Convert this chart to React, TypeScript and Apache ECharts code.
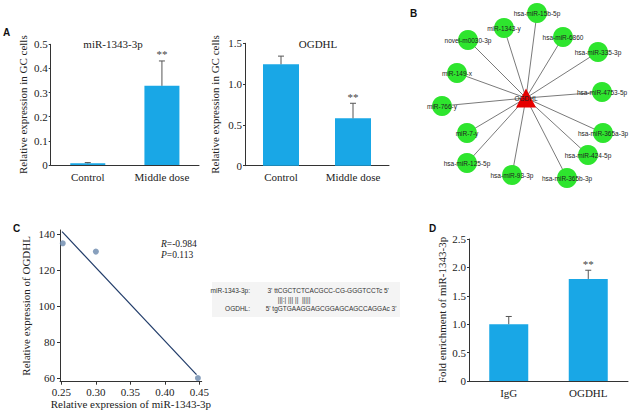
import React, { useEffect, useRef } from "react";
import * as echarts from "echarts";

// ---------- data ----------
const groupsA = ["Control", "Middle dose"];
const mirMeans = [0.007, 0.328];
const mirErrs = [0.003, 0.103];
const mirSig = ["", "**"];

const ogdhlMeans = [1.243, 0.58];
const ogdhlErrs = [0.1, 0.185];
const ogdhlSig = ["", "**"];

const ripGroups = ["IgG", "OGDHL"];
const ripMeans = [1.0, 1.797];
const ripErrs = [0.136, 0.153];
const ripSig = ["", "**"];

const corrX = [0.252, 0.3, 0.448];
const corrY = [134.8, 130.2, 60.0];
const fitX = [0.251, 0.446];
const fitY = [141.3, 61.9];
const corrTicksX = [0.25, 0.3, 0.35, 0.4, 0.45];
const corrTicksY = [60, 80, 100, 120, 140];

const hubName = "OGDHL";
const hubPos = [526, 98];
const mirNames = [
  "hsa-miR-15b-5p",
  "miR-1343-y",
  "novel-m0030-3p",
  "hsa-miR-6860",
  "hsa-miR-335-3p",
  "miR-149-x",
  "hsa-miR-4753-5p",
  "miR-766-y",
  "miR-7-y",
  "hsa-miR-365a-3p",
  "hsa-miR-125-5p",
  "hsa-miR-424-5p",
  "hsa-miR-93-3p",
  "hsa-miR-365b-3p",
];
const mirX = [537, 504, 468, 563, 598, 457, 602, 442, 467, 603, 467, 588, 512, 567];
const mirY = [13, 28, 40, 37, 52, 73, 92, 106, 133, 133, 163, 155, 175, 178];

const corrStats = ["{i|R}=-0.984", "{i|P}=0.113"];

const seqMirLabel = "miR-1343-3p:";
const seqMir = "3' ttCGCTCTCACGCC-CG-GGGTCCTc 5'";
const seqBonds = "|||:| ||| ||  |||||";
const seqGeneLabel = "OGDHL:";
const seqGene = "5' tgGTGAAGGAGCGGAGCAGCCAGGAc 3'";

const SERIF = "'Liberation Serif', 'DejaVu Serif', serif";
const SANS = "'Liberation Sans', Arial, sans-serif";
const BAR = "#19a7e6";
const AXIS = "#333";

function errRender(sig: string[]) {
  return (params: any, api: any) => {
    const i = api.value(0);
    const m = api.value(1);
    const e = api.value(2);
    const base = api.coord([i, m]);
    const top = api.coord([i, m + e]);
    const cap = 3;
    const st = { stroke: "#555", lineWidth: 1 };
    const children: any[] = [
      { type: "line", shape: { x1: base[0], y1: base[1], x2: top[0], y2: top[1] }, style: st },
      { type: "line", shape: { x1: top[0] - cap, y1: top[1], x2: top[0] + cap, y2: top[1] }, style: st },
    ];
    const s = sig[params.dataIndex];
    if (s) {
      children.push({
        type: "text",
        x: top[0],
        y: top[1] - 1,
        style: { text: s, textAlign: "center", textVerticalAlign: "bottom", fontSize: 11, fontFamily: SERIF, fill: "#444" },
      });
    }
    return { type: "group", children };
  };
}

function catAxis(grid: number, data: string[]) {
  return {
    type: "category",
    gridIndex: grid,
    data,
    axisLine: { lineStyle: { color: AXIS, width: 1 } },
    axisTick: { show: false },
    axisLabel: { fontSize: 11, fontFamily: SERIF, color: "#222", margin: 6 },
  };
}

function valAxis(grid: number, max: number, interval: number, name: string, gap: number, dec: number) {
  return {
    type: "value",
    gridIndex: grid,
    min: 0,
    max,
    interval,
    name,
    nameLocation: "middle",
    nameGap: gap,
    nameTextStyle: { fontSize: 11, fontFamily: SERIF, color: "#222" },
    axisLine: { show: true, lineStyle: { color: AXIS, width: 1 } },
    axisTick: { show: true, length: 2, lineStyle: { color: AXIS } },
    splitLine: { show: false },
    axisLabel: {
      fontSize: 11,
      fontFamily: SERIF,
      color: "#222",
      margin: 3,
      formatter: (v: number) => (v === 0 ? "0" : v.toFixed(dec)),
    },
  };
}

function bars(xi: number, means: number[], width: number) {
  return {
    type: "bar",
    xAxisIndex: xi,
    yAxisIndex: xi,
    data: means,
    barWidth: width,
    itemStyle: { color: BAR },
    silent: true,
  };
}

function errs(xi: number, means: number[], e: number[], sig: string[]) {
  return {
    type: "custom",
    xAxisIndex: xi,
    yAxisIndex: xi,
    z: 3,
    silent: true,
    renderItem: errRender(sig),
    data: means.map((m, i) => [i, m, e[i]]),
  };
}

function seqText(x: number, y: number, text: string, align: string) {
  return {
    type: "text",
    x,
    y,
    style: { text, textAlign: align, textVerticalAlign: "middle", fontSize: 6.5, fontFamily: SANS, fill: "#333" },
  };
}

export default function App() {
  const ref = useRef<HTMLDivElement>(null);
  useEffect(() => {
    if (!ref.current) return;
    const chart = echarts.init(ref.current, undefined, { renderer: "svg" });

    const nodes: any[] = [
      {
        name: hubName,
        x: hubPos[0],
        y: hubPos[1],
        symbol: "triangle",
        symbolSize: [20, 19],
        itemStyle: { color: "#e60000" },
        z: 3,
      },
      ...mirNames.map((n, i) => ({
        name: n,
        x: mirX[i],
        y: mirY[i],
        symbol: "circle",
        symbolSize: 20,
        itemStyle: { color: "#2ee52e" },
      })),
    ];
    const links = mirNames.map((n) => ({ source: n, target: hubName }));
    const xs = [hubPos[0], ...mirX];
    const ys = [hubPos[1], ...mirY];
    const gx0 = Math.min(...xs);
    const gx1 = Math.max(...xs);
    const gy0 = Math.min(...ys);
    const gy1 = Math.max(...ys);

    const statTexts = corrStats.map((t, i) => ({
      type: "text",
      x: 161,
      y: 244 + i * 10.5,
      style: {
        text: t,
        textVerticalAlign: "middle",
        fontSize: 9.5,
        fontFamily: SERIF,
        fill: "#222",
        rich: { i: { fontStyle: "italic", fontSize: 9.5, fontFamily: SERIF, fill: "#222" } },
      },
    }));

    const option: any = {
      animation: false,
      backgroundColor: "#ffffff",
      textStyle: { fontFamily: SERIF },
      grid: [
        { left: 50.7, top: 44.3, width: 148.3, height: 120.7 },
        { left: 245, top: 43.3, width: 144, height: 122.4 },
        { left: 60, top: 230, width: 141.7, height: 151.7 },
        { left: 469, top: 239, width: 159, height: 142 },
      ],
      xAxis: [
        catAxis(0, groupsA),
        catAxis(1, groupsA),
        {
          type: "value",
          gridIndex: 2,
          min: 0.248,
          max: 0.4535,
          name: "Relative expression of miR-1343-3p",
          nameLocation: "middle",
          nameGap: 16,
          nameTextStyle: { fontSize: 11, fontFamily: SERIF, color: "#222" },
          axisLine: { show: true, lineStyle: { color: AXIS } },
          axisTick: { show: true, length: 3, customValues: corrTicksX, lineStyle: { color: AXIS } },
          splitLine: { show: false },
          axisLabel: {
            customValues: corrTicksX,
            fontSize: 11,
            fontFamily: SERIF,
            color: "#222",
            margin: 5,
            formatter: (v: number) => v.toFixed(2),
          },
        },
        catAxis(3, ripGroups),
      ],
      yAxis: [
        valAxis(0, 0.5, 0.1, "Relative expression in GC cells", 22, 1),
        valAxis(1, 1.5, 0.5, "Relative expression in GC cells", 25, 1),
        {
          type: "value",
          gridIndex: 2,
          min: 58,
          max: 142.2,
          name: "Relative expression of OGDHL",
          nameLocation: "middle",
          nameGap: 29,
          nameTextStyle: { fontSize: 11, fontFamily: SERIF, color: "#222" },
          axisLine: { show: true, lineStyle: { color: AXIS } },
          axisTick: { show: true, length: 3, customValues: corrTicksY, lineStyle: { color: AXIS } },
          splitLine: { show: false },
          axisLabel: {
            customValues: corrTicksY,
            fontSize: 11,
            fontFamily: SERIF,
            color: "#222",
            margin: 5,
          },
        },
        valAxis(3, 2.5, 0.5, "Fold enrichment of miR-1343-3p", 22, 1),
      ],
      series: [
        bars(0, mirMeans, 35),
        errs(0, mirMeans, mirErrs, mirSig),
        bars(1, ogdhlMeans, 36),
        errs(1, ogdhlMeans, ogdhlErrs, ogdhlSig),
        bars(3, ripMeans, 39),
        errs(3, ripMeans, ripErrs, ripSig),
        {
          type: "line",
          xAxisIndex: 2,
          yAxisIndex: 2,
          data: fitX.map((x, i) => [x, fitY[i]]),
          symbol: "none",
          lineStyle: { color: "#1f3a68", width: 1.2 },
          silent: true,
        },
        {
          type: "scatter",
          xAxisIndex: 2,
          yAxisIndex: 2,
          data: corrX.map((x, i) => [x, corrY[i]]),
          symbolSize: 6,
          itemStyle: { color: "#6a88ad" },
          z: 4,
          silent: true,
        },
        {
          type: "graph",
          layout: "none",
          left: gx0,
          top: gy0,
          width: gx1 - gx0,
          height: gy1 - gy0,
          roam: false,
          silent: true,
          data: nodes,
          links,
          lineStyle: { color: "#7a7a7a", width: 1, opacity: 1, curveness: 0 },
          label: {
            show: true,
            position: "inside",
            fontSize: 6.5,
            fontFamily: SANS,
            color: "#222",
          },
          emphasis: { disabled: true },
        },
      ],
      graphic: [
        { type: "text", left: 3, top: 27, style: { text: "A", fontSize: 10, fontWeight: "bold", fontFamily: SANS, fill: "#111" } },
        { type: "text", left: 410, top: 8, style: { text: "B", fontSize: 10, fontWeight: "bold", fontFamily: SANS, fill: "#111" } },
        { type: "text", left: 13, top: 223, style: { text: "C", fontSize: 10, fontWeight: "bold", fontFamily: SANS, fill: "#111" } },
        { type: "text", left: 429, top: 223, style: { text: "D", fontSize: 10, fontWeight: "bold", fontFamily: SANS, fill: "#111" } },
        {
          type: "text",
          x: 113,
          y: 43.5,
          style: { text: "miR-1343-3p", textAlign: "center", textVerticalAlign: "middle", fontSize: 11, fontFamily: SERIF, fill: "#222" },
        },
        {
          type: "text",
          x: 318,
          y: 43.5,
          style: { text: "OGDHL", textAlign: "center", textVerticalAlign: "middle", fontSize: 11, fontFamily: SERIF, fill: "#222" },
        },
        ...statTexts,
        { type: "rect", shape: { x: 212, y: 282, width: 188, height: 35 }, style: { fill: "#f4f4f4" }, z: -1 },
        seqText(250, 290, seqMirLabel, "right"),
        seqText(267.5, 290, seqMir, "left"),
        seqText(277.7, 299, seqBonds, "left"),
        seqText(250, 308.3, seqGeneLabel, "right"),
        seqText(265.7, 308.3, seqGene, "left"),
      ],
    };
    chart.setOption(option);
    return () => chart.dispose();
  }, []);
  return (
    <div
      ref={ref}
      style={{ position: "fixed", left: 0, top: 0, width: 640, height: 412, background: "#fff" }}
    />
  );
}
